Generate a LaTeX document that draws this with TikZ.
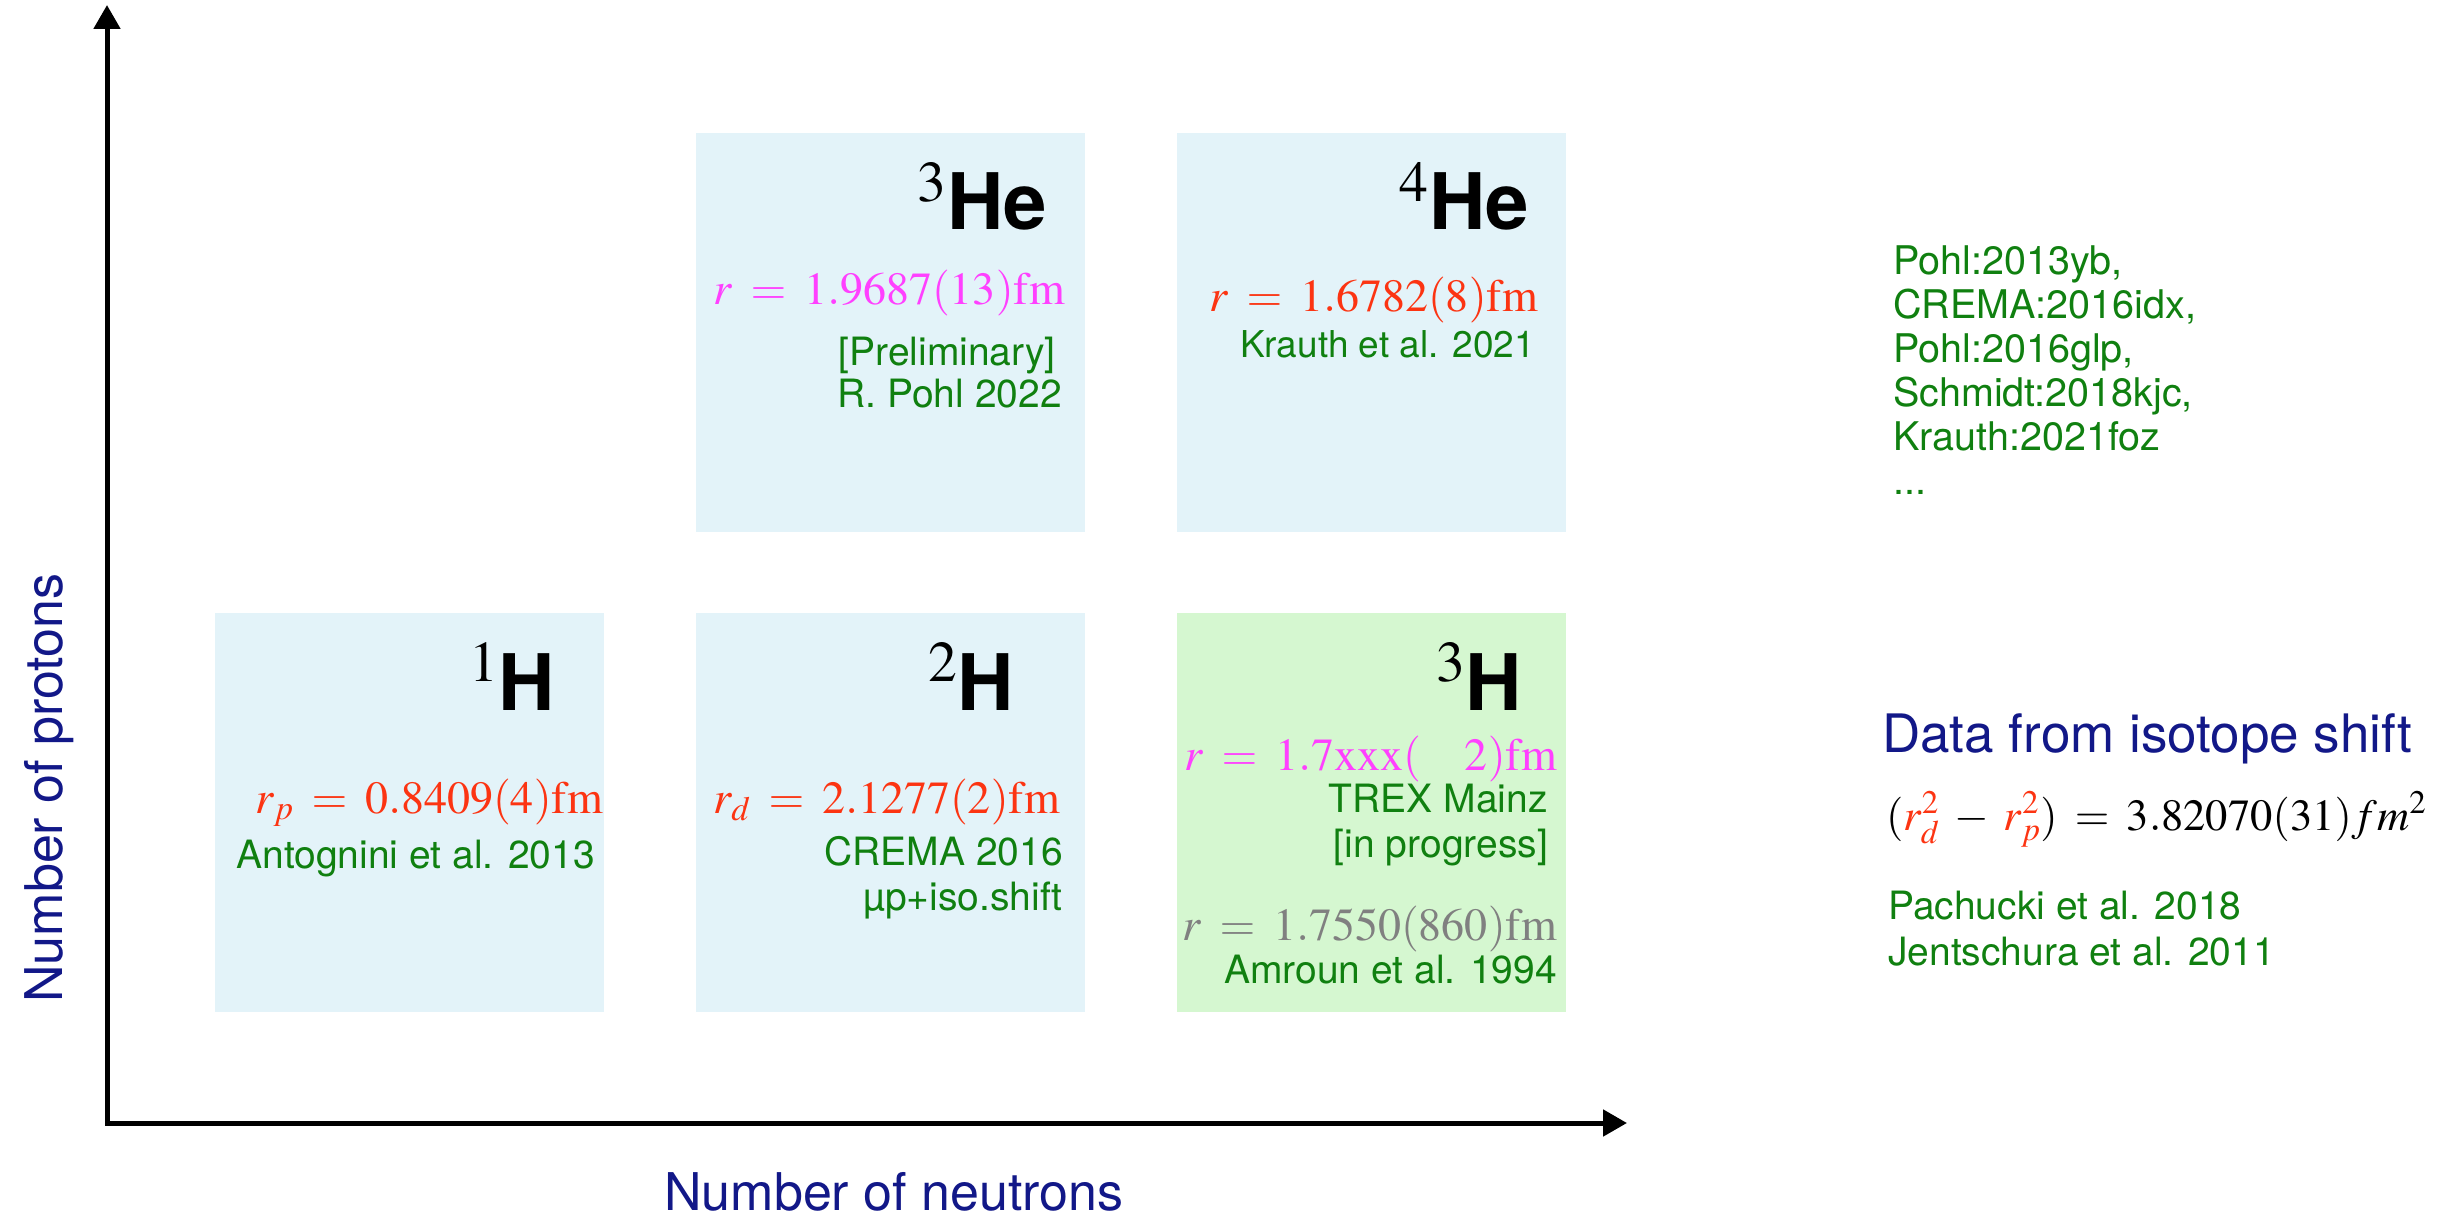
\documentclass[tikz,border=0pt]{standalone}
\usepackage{mathptmx}
\usepackage[no-math]{fontspec}
\usepackage{xcolor}
\usepackage{tikz}
\usetikzlibrary{arrows.meta, positioning}

\newfontfamily\helv{TeX Gyre Heros}

\definecolor{cellblue}{RGB}{227,243,249}
\definecolor{cellgreen}{RGB}{213,247,208}
\definecolor{radred}{RGB}{252,52,18}
\definecolor{radpink}{RGB}{255,64,255}
\definecolor{refgreen}{RGB}{16,128,16}
\definecolor{axisblue}{RGB}{18,24,136}

% a little more room around = and - in the radius formulas
\thickmuskip=7mu
\medmuskip=6mu

\begin{document}
\begin{tikzpicture}[
        x=1pt, y=-1pt,
        cell/.style={rectangle, fill=cellblue, minimum width=389pt, minimum height=399pt, inner sep=0pt, anchor=north west},
        isotag/.style={anchor=base east, inner sep=0pt, font=\fontsize{78}{80}\selectfont},
        rval/.style={anchor=base east, inner sep=0pt, font=\fontsize{46}{50}\selectfont},
        cite/.style={anchor=base east, inner sep=0pt, text=refgreen, font=\helv\fontsize{39}{44}\selectfont},
        axlabel/.style={anchor=base, inner sep=0pt, text=axisblue, font=\helv\fontsize{52}{56}\selectfont},
        axis/.style={line width=5pt, {Triangle[width=26pt, length=24pt]}-{Triangle[width=26pt, length=24pt]}}
    ]
    \useasboundingbox (0,0) rectangle (2440,1214);

    % --- Axes ---
    \coordinate (origin) at (107,1123);
    \coordinate (ztip) at (107,5);
    \coordinate (ntip) at (1627,1123);
    \draw[axis] (ztip) -- (origin) -- (ntip);
    \node[axlabel, rotate=90] (zlabel) at (62,788) {Number of protons};
    \node[axlabel] (nlabel) at (894,1210) {Number of neutrons};

    % --- Cells (Z = 2) ---
    \node[cell] (he3) at (696,133) {};
    \node[cell] (he4) at (1177,133) {};
    % --- Cells (Z = 1) ---
    \node[cell] (h1) at (215,613) {};
    \node[cell] (h2) at (696,613) {};
    \node[cell, fill=cellgreen] (h3) at (1177,613) {};

    % Helium-3
    \node[isotag] (he3tag) at (1047,230) {$^{3}$\helv\bfseries He};
    \node[rval, text=radpink] (he3r) at (1065,305) {$r = 1.9687(13)\mathrm{fm}$};
    \node[cite] (he3prel) at (1056,365) {[Preliminary]};
    \node[cite] (he3ref) at (1062,407) {R. Pohl 2022};

    % Helium-4
    \node[isotag] (he4tag) at (1529,230) {$^{4}$\helv\bfseries He};
    \node[rval, text=radred] (he4r) at (1538,312) {$r = 1.6782(8)\mathrm{fm}$};
    \node[cite, font=\helv\fontsize{37}{44}\selectfont] (he4ref) at (1535,357) {Krauth et al. 2021};

    % Hydrogen
    \node[isotag] (h1tag) at (555,710) {$^{1}$\helv\bfseries H};
    \node[rval, text=radred] (h1r) at (603,813) {$r_p = 0.8409(4)\mathrm{fm}$};
    \node[cite] (h1ref) at (595,868) {Antognini et al. 2013};

    % Deuterium
    \node[isotag] (h2tag) at (1014,710) {$^{2}$\helv\bfseries H};
    \node[rval, text=radred] (h2r) at (1060,813) {$r_d = 2.1277(2)\mathrm{fm}$};
    \node[cite] (h2ref) at (1063,865) {CREMA 2016};
    \node[cite] (h2how) at (1063,910) {µp+iso.shift};

    % Tritium
    \node[isotag] (h3tag) at (1522,710) {$^{3}$\helv\bfseries H};
    \node[rval, text=radpink] (h3r) at (1557,770) {$r = 1.7\mathrm{xxx}(\hspace{44pt}2)\mathrm{fm}$};
    \node[cite] (h3ref) at (1548,812) {TREX Mainz};
    \node[cite] (h3stat) at (1548,857) {[in progress]};
    \node[rval, text=gray] (h3old) at (1557,940) {$r = 1.7550(860)\mathrm{fm}$};
    \node[cite] (h3oldref) at (1557,983) {Amroun et al. 1994};

    % --- References and isotope shift ---
    \node[anchor=north west, inner sep=0pt, align=left, text=refgreen, font=\helv\fontsize{39.5}{44}\selectfont] (keys) at (1893,246)
        {Pohl:2013yb,\\CREMA:2016idx,\\Pohl:2016glp,\\Schmidt:2018kjc,\\Krauth:2021foz\\...};
    \node[anchor=base west, inner sep=0pt, text=axisblue, font=\helv\fontsize{53}{56}\selectfont] (shift) at (1882,752) {Data from isotope shift};
    \node[anchor=base west, inner sep=0pt, font=\fontsize{44.5}{48}\selectfont] (shifteq) at (1886,830)
        {$(\textcolor{radred}{r_d^2} - \textcolor{radred}{r_p^2}) = 3.82070(31)fm^2$};
    \node[cite, anchor=base west] (shiftref1) at (1888,919) {Pachucki et al. 2018};
    \node[cite, anchor=base west] (shiftref2) at (1888,965) {Jentschura et al. 2011};

\end{tikzpicture}
\end{document}
